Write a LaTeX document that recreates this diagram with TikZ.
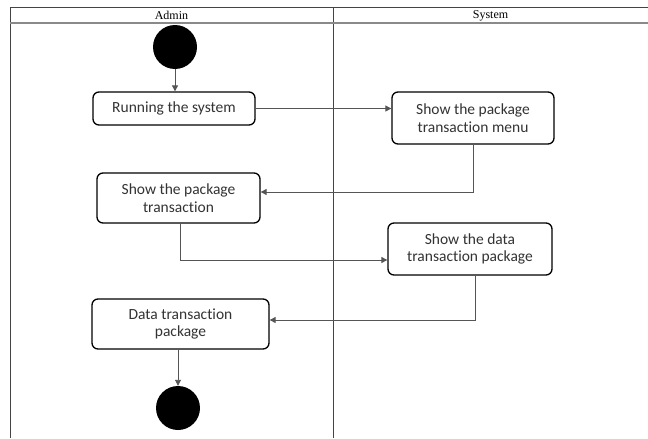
\documentclass[tikz,border=0pt]{standalone}
\usepackage{fontspec}
\setmainfont{Carlito}[Ligatures=NoCommon]
\newfontfamily\hdrfont{Liberation Serif}
\usetikzlibrary{arrows.meta}
\definecolor{frame}{HTML}{444444}
\definecolor{hline}{HTML}{8A8A8A}
\definecolor{conn}{HTML}{555555}
\tikzset{
  actbox/.style={draw=black, line width=1.3pt, rounded corners=6pt, fill=white,
    inner sep=0pt, align=center, font=\fontsize{15.5}{17.5}\selectfont, text=black!80},
  dot/.style={circle, fill=black, inner sep=0pt, minimum size=44pt},
  flow/.style={draw=conn, line width=0.9pt, -{Triangle[length=6pt,width=6pt]}},
  lane/.style={draw=frame, line width=1pt},
  hdr/.style={font=\hdrfont\fontsize{12}{13}\selectfont, inner sep=0pt}
}
\begin{document}
\begin{tikzpicture}[x=1pt,y=-1pt]
\useasboundingbox (0,0) rectangle (648,439);
% swimlane frame
\draw[lane] (648,7) -- (10,7) -- (10,438);
\draw[lane] (333,7) -- (333,438);
\draw[draw=hline, line width=1.2pt] (10,23) -- (648,23);
\node[hdr] (hA) at (171.5,15.5) {Admin};
\node[hdr] (hS) at (490.5,15.5) {System};
% nodes
\node[dot] (start) at (175,47) {};
\node[actbox, minimum width=162pt, minimum height=33pt] (b1) at (174,108.5) {Running the system};
\node[actbox, minimum width=162pt, minimum height=52pt] (b2) at (473,118) {Show the package\\transaction menu};
\node[actbox, minimum width=163pt, minimum height=50pt] (b3) at (178.5,198) {Show the package\\transaction};
\node[actbox, minimum width=164pt, minimum height=52pt] (b4) at (470,249) {Show the data\\transaction package};
\node[actbox, minimum width=177pt, minimum height=50pt] (b5) at (180.5,324) {Data transaction\\package};
\node[dot] (end) at (178,408) {};
% connectors
\draw[flow] (start.south) -- (start.south |- b1.north);
\draw[flow] (b1.east) -- (b1.east -| b2.west);
\draw[flow] (b2.south) |- ([yshift=6pt]b3.east);
\draw[flow] ([xshift=1.5pt]b3.south) |- ([yshift=-11pt]b4.west);
\draw[flow] ([xshift=5pt]b4.south) |- ([yshift=4pt]b5.east);
\draw[flow] (b5.south -| end.north) -- (end.north);
\end{tikzpicture}
\end{document}
